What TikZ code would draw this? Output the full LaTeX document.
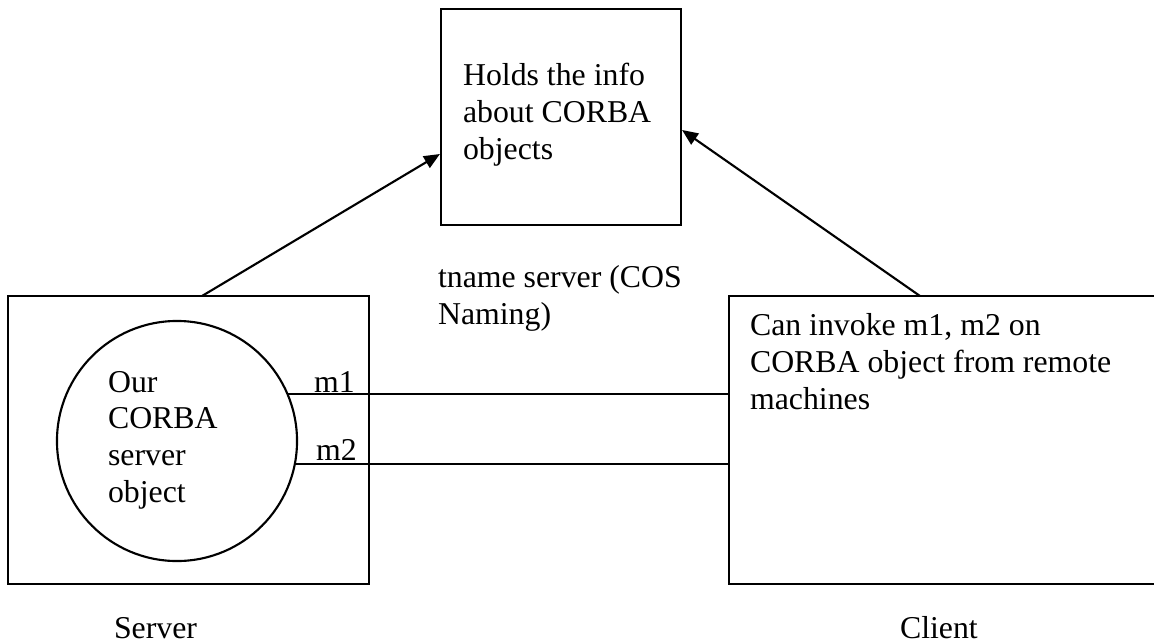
\documentclass[tikz,border=0pt]{standalone}
\usepackage{fontspec}
\setmainfont{Liberation Serif}
\usetikzlibrary{arrows.meta,fit}
\begin{document}
\begin{tikzpicture}[x=0.3774pt,y=-0.3774pt, line width=0.8pt,
  box/.style={draw, inner sep=0pt},
  lbl/.style={anchor=base west, inner sep=0pt, font=\fontsize{12}{13.8}\selectfont, align=left},
  arr/.style={-{Triangle[length=6pt,width=5pt]}}]
\clip (0,0) rectangle (1154,643);
% boxes
\node[box, fit={(441,9) (681,225)}] (names) {};
\node[box, fit={(8,296) (369,584)}] (server) {};
\node[box, fit={(729,296) (1180,584)}] (client) {};
\node[draw, circle, minimum size=90.6pt, inner sep=0pt] (obj) at (177,441) {};
% texts (anchor = baseline of the last line)
\node[lbl] (namestxt) at (462,159) {Holds the info\\about CORBA\\objects};
\node[lbl] (tname) at (437,324) {tname server (COS\\Naming)};
\node[lbl] (objtxt) at (107,502) {Our\\CORBA\\server\\object};
\node[lbl] (clienttxt) at (749,409) {Can invoke m1, m2 on\\CORBA object from remote\\machines};
\node[lbl] (m1) at (313,392) {m1};
\node[lbl] (m2) at (315,460) {m2};
\node[lbl] (serverlbl) at (113,638) {Server};
\node[lbl] (clientlbl) at (899,638) {Client};
% connectors
\coordinate (s1) at (202,296);
\coordinate (c1) at (920,296);
\draw[arr] (s1) -- (names.west |- 0,154);
\draw[arr] (c1) -- (names.east |- 0,130);
\draw (obj.23.6) -- (client.west |- obj.23.6);
\draw (obj.-11) -- (client.west |- obj.-11);
\end{tikzpicture}
\end{document}
